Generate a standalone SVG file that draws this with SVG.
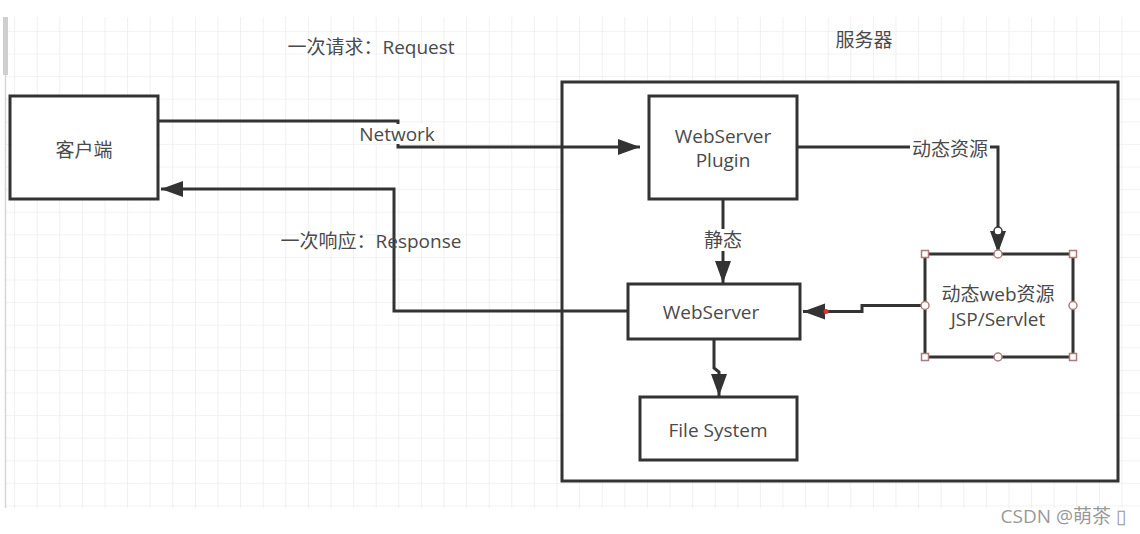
<svg xmlns="http://www.w3.org/2000/svg" width="1140" height="534" viewBox="0 0 1140 534">
<style>
.box{fill:#fff;stroke:#333;stroke-width:3}
.ln{fill:none;stroke:#333;stroke-width:3}
.t{font-family:"Open Sans","Noto Sans CJK SC",sans-serif;font-size:19px;fill:#4a4a4a;text-anchor:middle;dominant-baseline:central}
.h{fill:#fff;stroke:#b07a7a;stroke-width:1.5}
</style>
<defs>
<pattern id="grid" x="14.1" y="8.3" width="22.6" height="22.6" patternUnits="userSpaceOnUse">
<path d="M0,0 H22.6 M0,0 V22.6" fill="none" stroke="#e6e6e6" stroke-width="1.2"/>
</pattern>
<marker id="arr" markerUnits="userSpaceOnUse" markerWidth="24" markerHeight="18" refX="22" refY="8" orient="auto">
<path d="M0,0 L22,8 L0,16 z" fill="#333"/>
</marker>
</defs>
<rect width="1140" height="534" fill="#fff"/>
<rect x="5" y="17" width="1135" height="491" fill="url(#grid)"/>
<line x1="5.5" y1="17" x2="5.5" y2="508" stroke="#d6d6d6" stroke-width="1.5"/>
<rect x="3" y="17" width="5" height="58" fill="#cfcfcf"/>

<g id="server">
<rect class="box" x="562" y="82" width="556" height="399"/>
<text class="t" x="864" y="40">服务器</text>
</g>

<g id="connectors">
<path class="ln" d="M158,121 H398 V147 H640" marker-end="url(#arr)"/>
<rect x="356" y="124" width="82" height="20" fill="#fff"/>
<text class="t" x="397" y="134">Network</text>
<text class="t" x="371" y="47">一次请求：Request</text>

<path class="ln" d="M628,311 H394 V189 H161" marker-end="url(#arr)"/>
<text class="t" x="371" y="241">一次响应：Response</text>

<path class="ln" d="M797,147 H998 V253" marker-end="url(#arr)"/>
<rect x="910" y="138" width="80" height="22" fill="#fff"/>
<text class="t" x="950" y="149">动态资源</text>
<circle cx="998" cy="231" r="4" fill="#fff" stroke="#333" stroke-width="1.5"/>

<path class="ln" d="M723,198 V283" marker-end="url(#arr)"/>
<rect x="703" y="229" width="40" height="22" fill="#fff"/>
<text class="t" x="723" y="240">静态</text>

<path class="ln" d="M925,305.5 H862 V311.5 H803" marker-end="url(#arr)"/>
<circle cx="826" cy="311.5" r="2.5" fill="#e03030"/>

<path class="ln" d="M714,339 V368 L719,372 V396" marker-end="url(#arr)"/>
</g>

<g id="client">
<rect class="box" x="10" y="96" width="148" height="103"/>
<text class="t" x="84" y="150">客户端</text>
</g>

<g id="plugin">
<rect class="box" x="649" y="96" width="148" height="103"/>
<text class="t" x="723" y="136">WebServer</text>
<text class="t" x="723" y="160">Plugin</text>
</g>

<g id="webserver">
<rect class="box" x="628" y="284" width="172" height="55"/>
<text class="t" x="711" y="312">WebServer</text>
</g>

<g id="filesystem">
<rect class="box" x="640" y="397" width="157" height="63"/>
<text class="t" x="718" y="430">File System</text>
</g>

<g id="dynamic">
<rect class="box" x="925" y="254" width="148" height="103"/>
<text class="t" x="998" y="294">动态web资源</text>
<text class="t" x="998" y="319">JSP/Servlet</text>
<rect class="h" x="921.5" y="250.5" width="7" height="7"/>
<rect class="h" x="1069.5" y="250.5" width="7" height="7"/>
<rect class="h" x="921.5" y="353.5" width="7" height="7"/>
<rect class="h" x="1069.5" y="353.5" width="7" height="7"/>
<circle class="h" cx="998" cy="254" r="4"/>
<circle class="h" cx="998" cy="357" r="4"/>
<circle class="h" cx="925" cy="305.5" r="4"/>
<circle class="h" cx="1073" cy="305.5" r="4"/>
</g>

<text x="1126" y="516" font-family="'Open Sans','Noto Sans CJK SC',sans-serif" font-size="19" fill="#999" text-anchor="end" dominant-baseline="central">CSDN @萌茶 ▯</text>
</svg>
